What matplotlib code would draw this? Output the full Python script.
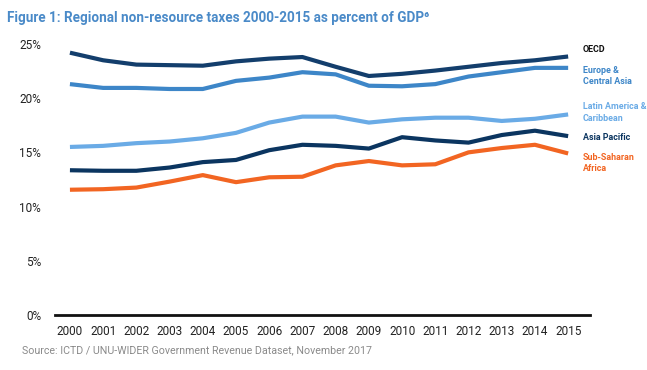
import matplotlib
matplotlib.use('Agg')
import matplotlib.pyplot as plt
from matplotlib import font_manager

years = list(range(2000, 2016))
oecd = [24.2, 23.5, 23.1, 23.05, 23.0, 23.4, 23.65, 23.8, 22.9, 22.05, 22.25, 22.55, 22.9, 23.25, 23.5, 23.85]
europe = [21.3, 20.95, 20.95, 20.85, 20.85, 21.6, 21.9, 22.4, 22.2, 21.15, 21.1, 21.3, 22.0, 22.4, 22.8, 22.8]
latin = [15.5, 15.6, 15.85, 16.0, 16.3, 16.8, 17.75, 18.3, 18.3, 17.75, 18.05, 18.2, 18.2, 17.9, 18.1, 18.5]
asia = [13.35, 13.3, 13.3, 13.6, 14.1, 14.3, 15.2, 15.7, 15.6, 15.35, 16.4, 16.1, 15.9, 16.6, 17.0, 16.5]
africa = [11.55, 11.6, 11.75, 12.3, 12.9, 12.25, 12.7, 12.75, 13.8, 14.2, 13.8, 13.9, 15.0, 15.4, 15.7, 14.9]

series = [
    (oecd, '#133e6c', 'OECD', '#111111', 24.5),
    (europe, '#3d86c8', 'Europe &\nCentral Asia', '#3d86c8', 22.05),
    (latin, '#6aabe6', 'Latin America &\nCaribbean', '#6aabe6', 18.7),
    (asia, '#0b3560', 'Asia Pacific', '#0b3560', 16.4),
    (africa, '#f26522', 'Sub-Saharan\nAfrica', '#f26522', 14.0),
]
y_ticks = [0, 5, 10, 15, 20, 25]

# narrowest face we can get
installed = {f.name for f in font_manager.fontManager.ttflist}
if 'Liberation Sans Narrow' in installed:
    narrow = ['Liberation Sans Narrow', 'DejaVu Sans']
elif 'Roboto' in installed:
    narrow = ['Roboto', 'DejaVu Sans']
else:
    narrow = ['Liberation Sans', 'DejaVu Sans']

fig = plt.figure(figsize=(6.47, 3.70), dpi=100)
ax = fig.add_axes([0.085, 0.149, 0.827, 0.732])
renderer = fig.canvas.get_renderer()


def fit_width(texts, sample, target_px, max_size=None):
    # scale font size so the sample text is target_px wide
    w = sample.get_window_extent(renderer).width
    size = sample.get_fontsize() * target_px / w
    if max_size is not None:
        size = min(size, max_size)
    for t in texts:
        t.set_fontsize(size)


labels = []
for values, color, label, text_color, label_y in series:
    ax.plot(years, values, color=color, linewidth=3, solid_capstyle='butt')
    t = ax.text(2015.45, label_y, label, color=text_color, fontsize=8.5,
                fontweight='bold', family=narrow,
                va='center', ha='left', linespacing=1.35, clip_on=False)
    labels.append(t)

ax.set_xlim(1999.55, 2015.66)
ax.set_ylim(0, 25)
ax.set_xticks(years)
ax.set_xticklabels([str(y) for y in years], fontsize=8.5, family=narrow)
ax.set_yticks(y_ticks)
ax.set_yticklabels([f'{t}%' for t in y_ticks], fontsize=8.5, family=narrow)
ax.tick_params(axis='both', length=0, colors='#222222')
ax.tick_params(axis='y', pad=10)
ax.tick_params(axis='x', pad=7)

ax.spines['top'].set_visible(False)
ax.spines['right'].set_visible(False)
ax.spines['left'].set_visible(False)
ax.spines['bottom'].set_color('#111111')
ax.spines['bottom'].set_linewidth(2)

title = fig.text(0.011, 0.952, 'Figure 1: Regional non-resource taxes 2000-2015 as percent of GDP\u2076',
                 color='#4a8ac8', fontsize=12, fontweight='bold', family=narrow, va='center')
source = fig.text(0.034, 0.053, 'Source: ICTD / UNU-WIDER Government Revenue Dataset, November 2017',
                  color='#8a8a8a', fontsize=8, family=narrow, va='center')

fit_width([title], title, 420)
fit_width([source], source, 350)
probe = fig.text(0, 0, 'Latin America &', fontsize=8.5, fontweight='bold', family=narrow)
fit_width(labels, probe, 63)
probe.remove()

plt.savefig('out.png', dpi=100)
plt.close()
